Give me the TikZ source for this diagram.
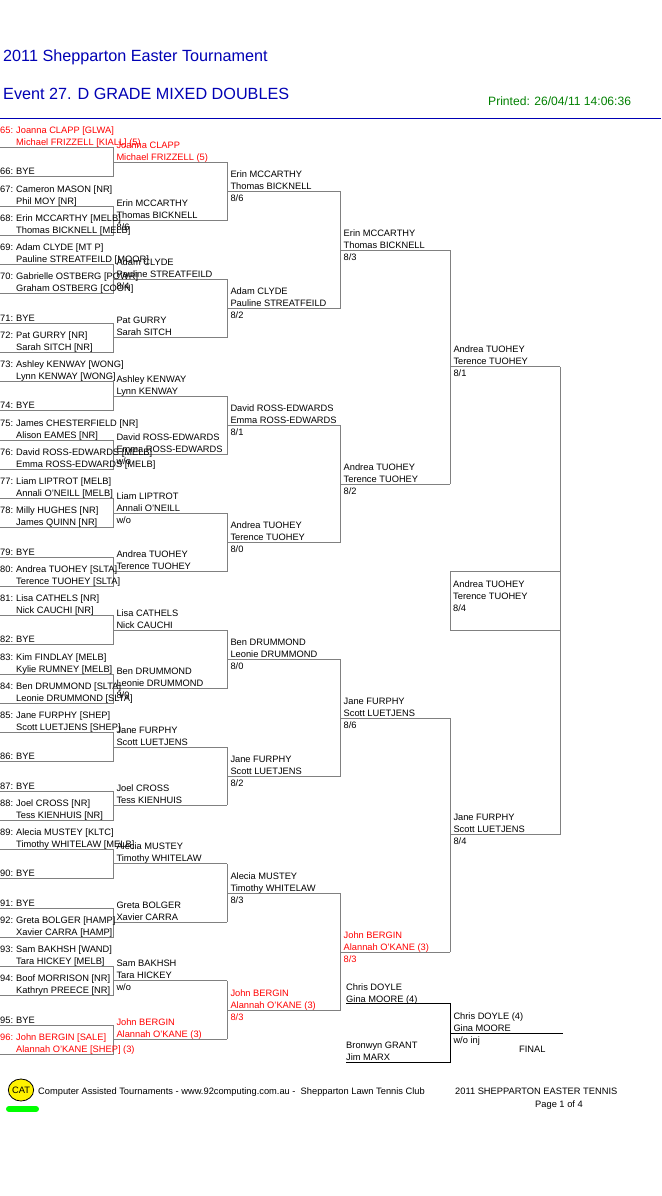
\documentclass[tikz,border=0pt]{standalone}
\usepackage{fontspec}
\setmainfont{Liberation Sans}
\usepackage{xcolor}
\usetikzlibrary{shapes.geometric}

\definecolor{headblue}{HTML}{0000B4}
\definecolor{printgreen}{HTML}{008000}
\definecolor{seedred}{HTML}{FF0000}
\definecolor{wiregray}{HTML}{808080}

\tikzset{
  txt/.style={anchor=base west, inner sep=0pt, font=\fontsize{9.3}{11}\selectfont},
  headtxt/.style={anchor=base west, inner sep=0pt, text=headblue, font=\fontsize{16.2}{19}\selectfont},
  wire/.style={draw=wiregray, line width=1pt},
  blackwire/.style={draw=black, line width=1pt}
}

\begin{document}
\begin{tikzpicture}[x=1pt, y=-1pt]
\useasboundingbox (0,0) rectangle (661,1196);

% Heading
\node[headtxt] (title) at (3,62) {2011 Shepparton Easter Tournament};
\node[headtxt] (event) at (3,100) {Event 27. D GRADE MIXED DOUBLES};
\node[txt, text=printgreen, font=\fontsize{12.1}{14}\selectfont] (printed) at (488,106) {Printed: 26/04/11 14:06:36};
\coordinate (ruleleft) at (0,118.3);
\coordinate (ruleright) at (661,118.3);
\draw[headblue, line width=1pt] (ruleleft) -- (ruleright);

% First round brackets
\foreach \k in {0,...,15} {
  \pgfmathsetmacro\yt{147.7+58.5*\k}
  \pgfmathsetmacro\yb{\yt+29}
  \coordinate (a\k) at (0,\yt);
  \coordinate (b\k) at (0,\yb);
  \coordinate (c\k) at (113.3,\yt);
  \coordinate (d\k) at (113.3,\yb);
  \draw[wire] (a\k) -- (c\k) -- (d\k) -- (b\k);
}

% Lines of the later rounds
\foreach \rd/\xl/\xr/\ya/\dy/\last in {2/113.3/227.3/162.3/58.47/15, 3/227.3/340.5/191.3/117/7, 4/340.5/450.3/250/234/3, 5/450.3/560.3/366.8/468/1} {
  \foreach \k in {0,...,\last} {
    \pgfmathsetmacro\yy{\ya+\k*\dy}
    \coordinate (r\rd l\k) at (\xl,\yy);
    \coordinate (r\rd r\k) at (\xr,\yy);
    \draw[wire] (r\rd l\k) -- (r\rd r\k);
  }
}

% Verticals joining them
\foreach \rd/\tops in {2/{0,2,4,6,8,10,12,14}, 3/{0,2,4,6}, 4/{0,2}, 5/{0}} {
  \foreach \k [evaluate=\k as \kk using int(\k+1)] in \tops {
    \draw[wire] (r\rd r\k) -- (r\rd r\kk);
  }
}

% Box of the 8/4 match
\coordinate (boxa) at (560.3,571.3);
\coordinate (boxb) at (450.3,571.3);
\coordinate (boxc) at (450.3,630.3);
\coordinate (boxd) at (560.3,630.3);
\draw[wire] (boxa) -- (boxb) -- (boxc) -- (boxd);

% Black bracket
\coordinate (sema) at (346,1003.3);
\coordinate (semb) at (450.3,1003.3);
\coordinate (semc) at (450.3,1062.3);
\coordinate (semd) at (346,1062.3);
\coordinate (fina) at (450.3,1033.3);
\coordinate (finb) at (562.7,1033.3);
\draw[blackwire] (sema) -- (semb) -- (semc) -- (semd);
\draw[blackwire] (fina) -- (finb);

% Entries with two names
\foreach \n/\at/\col/\na/\nb in {
  65/a0/seedred/Joanna CLAPP [GLWA]/Michael FRIZZELL [KIALL] (5),
  67/a1/black/Cameron MASON [NR]/Phil MOY [NR],
  68/b1/black/Erin MCCARTHY [MELB]/Thomas BICKNELL [MELB],
  69/a2/black/Adam CLYDE [MT P]/Pauline STREATFEILD [MOOR],
  70/b2/black/Gabrielle OSTBERG [POWR]/Graham OSTBERG [COON],
  72/b3/black/Pat GURRY [NR]/Sarah SITCH [NR],
  73/a4/black/Ashley KENWAY [WONG]/Lynn KENWAY [WONG],
  75/a5/black/James CHESTERFIELD [NR]/Alison EAMES [NR],
  76/b5/black/David ROSS-EDWARDS [MELB]/Emma ROSS-EDWARDS [MELB],
  77/a6/black/Liam LIPTROT [MELB]/Annali O'NEILL [MELB],
  78/b6/black/Milly HUGHES [NR]/James QUINN [NR],
  80/b7/black/Andrea TUOHEY [SLTA]/Terence TUOHEY [SLTA],
  81/a8/black/Lisa CATHELS [NR]/Nick CAUCHI [NR],
  83/a9/black/Kim FINDLAY [MELB]/Kylie RUMNEY [MELB],
  84/b9/black/Ben DRUMMOND [SLTA]/Leonie DRUMMOND [SLTA],
  85/a10/black/Jane FURPHY [SHEP]/Scott LUETJENS [SHEP],
  88/b11/black/Joel CROSS [NR]/Tess KIENHUIS [NR],
  89/a12/black/Alecia MUSTEY [KLTC]/Timothy WHITELAW [MELB],
  92/b13/black/Greta BOLGER [HAMP]/Xavier CARRA [HAMP],
  93/a14/black/Sam BAKHSH [WAND]/Tara HICKEY [MELB],
  94/b14/black/Boof MORRISON [NR]/Kathryn PREECE [NR],
  96/b15/seedred/John BERGIN [SALE]/Alannah O'KANE [SHEP] (3)} {
  \node[txt, text=\col] (num\n) at ([shift={(0,-14)}]\at) {\n:};
  \node[txt, text=\col] (first\n) at ([shift={(16,-14)}]\at) {\na};
  \node[txt, text=\col] (second\n) at ([shift={(16,-2)}]\at) {\nb};
}

% Byes
\foreach \n/\at in {66/b0, 71/a3, 74/b4, 79/a7, 82/b8, 86/b10, 87/a11, 90/b12, 91/a13, 95/a15} {
  \node[txt] (num\n) at ([shift={(0,-2)}]\at) {\n:};
  \node[txt] (bye\n) at ([shift={(16,-2)}]\at) {BYE};
}

% Winners
\foreach \at/\col/\na/\nb in {
  r2l0/seedred/Joanna CLAPP/Michael FRIZZELL (5),
  r2l1/black/Erin MCCARTHY/Thomas BICKNELL,
  r2l2/black/Adam CLYDE/Pauline STREATFEILD,
  r2l3/black/Pat GURRY/Sarah SITCH,
  r2l4/black/Ashley KENWAY/Lynn KENWAY,
  r2l5/black/David ROSS-EDWARDS/Emma ROSS-EDWARDS,
  r2l6/black/Liam LIPTROT/Annali O'NEILL,
  r2l7/black/Andrea TUOHEY/Terence TUOHEY,
  r2l8/black/Lisa CATHELS/Nick CAUCHI,
  r2l9/black/Ben DRUMMOND/Leonie DRUMMOND,
  r2l10/black/Jane FURPHY/Scott LUETJENS,
  r2l11/black/Joel CROSS/Tess KIENHUIS,
  r2l12/black/Alecia MUSTEY/Timothy WHITELAW,
  r2l13/black/Greta BOLGER/Xavier CARRA,
  r2l14/black/Sam BAKHSH/Tara HICKEY,
  r2l15/seedred/John BERGIN/Alannah O'KANE (3),
  r3l0/black/Erin MCCARTHY/Thomas BICKNELL,
  r3l1/black/Adam CLYDE/Pauline STREATFEILD,
  r3l2/black/David ROSS-EDWARDS/Emma ROSS-EDWARDS,
  r3l3/black/Andrea TUOHEY/Terence TUOHEY,
  r3l4/black/Ben DRUMMOND/Leonie DRUMMOND,
  r3l5/black/Jane FURPHY/Scott LUETJENS,
  r3l6/black/Alecia MUSTEY/Timothy WHITELAW,
  r3l7/seedred/John BERGIN/Alannah O'KANE (3),
  r4l0/black/Erin MCCARTHY/Thomas BICKNELL,
  r4l1/black/Andrea TUOHEY/Terence TUOHEY,
  r4l2/black/Jane FURPHY/Scott LUETJENS,
  r4l3/seedred/John BERGIN/Alannah O'KANE (3),
  r5l0/black/Andrea TUOHEY/Terence TUOHEY,
  r5l1/black/Jane FURPHY/Scott LUETJENS} {
  \node[txt, text=\col] (first\at) at ([shift={(3,-14)}]\at) {\na};
  \node[txt, text=\col] (second\at) at ([shift={(3,-2)}]\at) {\nb};
}

% Scores
\foreach \at/\col/\sa/\sb in {
  r2l1/black/8/6, r2l2/black/8/4, r2l5/black/w/o, r2l6/black/w/o, r2l9/black/8/0, r2l14/black/w/o,
  r3l0/black/8/6, r3l1/black/8/2, r3l2/black/8/1, r3l3/black/8/0, r3l4/black/8/0, r3l5/black/8/2,
  r3l6/black/8/3, r3l7/seedred/8/3,
  r4l0/black/8/3, r4l1/black/8/2, r4l2/black/8/6, r4l3/seedred/8/3,
  r5l0/black/8/1, r5l1/black/8/4} {
  \node[txt, text=\col] (score\at) at ([shift={(3,10)}]\at) {\sa/\sb};
}

% Middle box and last match
\node[txt] (boxname) at (453,587.5) {Andrea TUOHEY};
\node[txt] (boxpartner) at (453,599.5) {Terence TUOHEY};
\node[txt] (boxscore) at (453,611.5) {8/4};
\node[txt] (chris) at ([shift={(0,-13)}]sema) {Chris DOYLE};
\node[txt] (gina) at ([shift={(0,-1)}]sema) {Gina MOORE (4)};
\node[txt] (bronwyn) at ([shift={(0,-14)}]semd) {Bronwyn GRANT};
\node[txt] (jim) at ([shift={(0,-2)}]semd) {Jim MARX};
\node[txt] (finname) at ([shift={(3,-14)}]fina) {Chris DOYLE (4)};
\node[txt] (finpartner) at ([shift={(3,-2)}]fina) {Gina MOORE};
\node[txt] (finscore) at ([shift={(3,10)}]fina) {w/o inj};
\node[txt] (final) at (519,1052) {FINAL};

% Footer
\node[draw=black, fill=yellow, ellipse, line width=.8pt, inner sep=0pt, minimum width=21pt, minimum height=22pt, font=\fontsize{9.3}{11}\selectfont] (cat) at (21,1090) {CAT};
\coordinate (barleft) at (9,1109);
\coordinate (barright) at (36,1109);
\draw[green, line width=6pt, line cap=round] (barleft) -- (barright);
\node[txt] (credit) at (38,1094) {Computer Assisted Tournaments - www.92computing.com.au -\ \ Shepparton Lawn Tennis Club};
\node[txt] (footname) at (455,1094) {2011 SHEPPARTON EASTER TENNIS};
\node[txt] (page) at (535,1107) {Page 1 of 4};

\end{tikzpicture}
\end{document}
